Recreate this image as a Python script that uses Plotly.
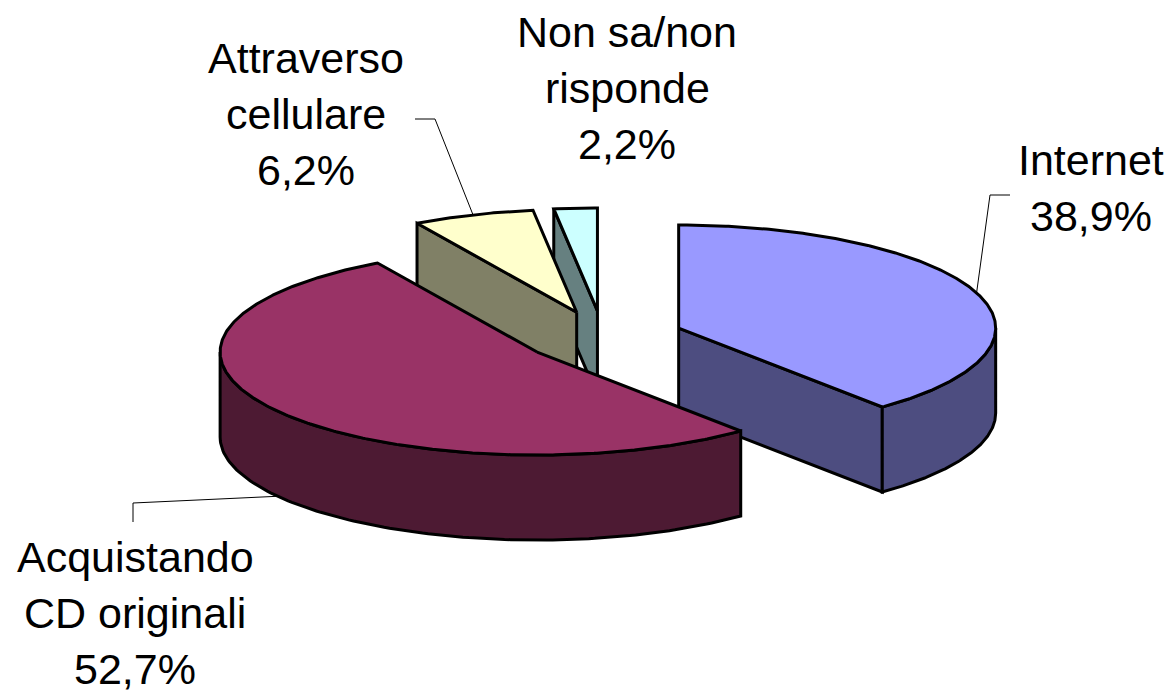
import numpy as np
import plotly.graph_objects as go

# ---- data ----
categories = ["Internet", "Acquistando CD originali", "Attraverso cellulare", "Non sa/non risponde"]
label_lines = [["Internet"], ["Acquistando", "CD originali"], ["Attraverso", "cellulare"], ["Non sa/non", "risponde"]]
values = [38.9, 52.7, 6.2, 2.2]
top_colors = ["#9999FF", "#993366", "#FFFFCC", "#CCFFFF"]
side_colors = ["#4D4D80", "#4D1A33", "#808066", "#668080"]

# ---- layout geometry (pixel space of the page) ----
W, H = 1176, 692
OFF = 8  # default body margin of the page
CX, CY = 603.0, 337.0
RX, RY = 317.0, 103.0
DEPTH = 85.0
EXPLODE = 0.254
FONT_SIZE = 43
LINE_PITCH = 56
# label anchor: centre x, baseline of first line
label_pos = [(1091, 175), (135, 572), (306, 73), (627, 47)]
# leader bend points (after the point on the slice)
leader_bends = [[(990, 195), (1010, 195)], [(133, 503), (133, 522)], [(435, 119), (415, 119)], None]

total = float(sum(values))
fig = go.Figure()


def rim(apex, th_deg, dy=0.0):
    th = np.radians(th_deg)
    return apex[0] + RX * np.cos(th), apex[1] - RY * np.sin(th) + dy


def poly(xs, ys, color, width=3):
    xs = list(xs) + [xs[0]]
    ys = list(ys) + [ys[0]]
    fig.add_trace(go.Scatter(x=xs, y=ys, mode="lines", fill="toself", fillcolor=color,
                             line=dict(color="black", width=width), hoverinfo="skip",
                             showlegend=False))


slices = []
cum = 0.0
for i, v in enumerate(values):
    a1 = 90.0 - cum / total * 360.0
    cum += v
    a0 = 90.0 - cum / total * 360.0
    m = (a0 + a1) / 2.0
    apex = (CX + EXPLODE * RX * np.cos(np.radians(m)), CY - EXPLODE * RY * np.sin(np.radians(m)))
    slices.append(dict(i=i, a0=a0, a1=a1, m=m, apex=apex))

# painter's order: back (smaller y) first
for s in sorted(slices, key=lambda s: s["apex"][1]):
    i, a0, a1, apex = s["i"], s["a0"], s["a1"], s["apex"]
    # radial faces
    for a, vis in ((a1, np.cos(np.radians(a1)) < -1e-6), (a0, np.cos(np.radians(a0)) > 1e-6)):
        if vis:
            px, py = rim(apex, a)
            poly([apex[0], px, px, apex[0]], [apex[1], py, py + DEPTH, apex[1] + DEPTH], side_colors[i])
    # curved outer side (front half: sin < 0)
    for k in range(-2, 2):
        lo, hi = max(a0, k * 360 - 180), min(a1, k * 360)
        if hi - lo > 0.5:
            th = np.linspace(lo, hi, 120)
            xs = [rim(apex, t)[0] for t in th]
            ys = [rim(apex, t)[1] for t in th]
            poly(xs + xs[::-1], ys + [y + DEPTH for y in ys[::-1]], side_colors[i])
    # top face
    th = np.linspace(a0, a1, max(int((a1 - a0) * 2), 4))
    xs = [apex[0]] + [rim(apex, t)[0] for t in th]
    ys = [apex[1]] + [rim(apex, t)[1] for t in th]
    poly(xs, ys, top_colors[i])

# leader lines and labels
for s in slices:
    i = s["i"]
    if leader_bends[i] is not None:
        if np.sin(np.radians(s["m"])) < 0:
            ex, ey = rim(s["apex"], s["m"], DEPTH)
        else:
            ex, ey = rim(s["apex"], s["m"])
        pts = [(ex, ey)] + leader_bends[i]
        fig.add_trace(go.Scatter(x=[p[0] for p in pts], y=[p[1] for p in pts], mode="lines",
                                 line=dict(color="black", width=1), hoverinfo="skip", showlegend=False))
    lines = label_lines[i] + [f"{values[i]:.1f}".replace(".", ",") + "%"]
    lx, ly = label_pos[i]
    for j, t in enumerate(lines):
        fig.add_annotation(x=lx, y=ly + j * LINE_PITCH - 0.36 * FONT_SIZE, text=t, showarrow=False,
                           xanchor="center", yanchor="middle",
                           font=dict(family="Liberation Sans, Arial, sans-serif", size=FONT_SIZE, color="black"))

fig.update_layout(width=W - OFF, height=H - OFF, margin=dict(l=0, r=0, t=0, b=0),
                  paper_bgcolor="white", plot_bgcolor="white", showlegend=False,
                  xaxis=dict(range=[OFF, W], visible=False, fixedrange=True),
                  yaxis=dict(range=[H, OFF], visible=False, fixedrange=True))
fig.write_html("out.html")
